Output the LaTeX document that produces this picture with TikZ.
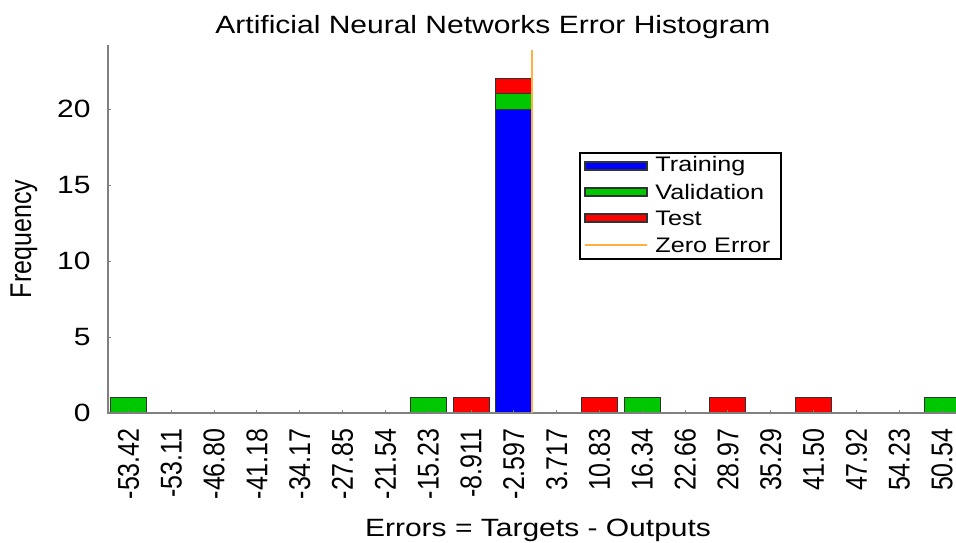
\documentclass[tikz,border=0pt]{standalone}
\usepackage{fontspec}
\setmainfont{Liberation Sans}
\usepackage{graphicx}
\newcommand{\hs}[1]{\scalebox{1.2}[1]{#1}}
\newcommand{\vs}[1]{\scalebox{1}[1.2]{#1}}
\definecolor{vblue}{RGB}{0,0,255}
\definecolor{vgreen}{RGB}{0,200,0}
\definecolor{vred}{RGB}{255,0,0}
\definecolor{vorange}{RGB}{255,176,64}
\definecolor{axgray}{RGB}{128,128,128}
\definecolor{edgegray}{RGB}{50,50,50}
\begin{document}
\begin{tikzpicture}[x=0.5pt,y=-0.5pt,
  axisline/.style={draw=axgray, line width=1pt},
  barbox/.style={draw=edgegray, line width=0.5pt},
  lbl/.style={font=\fontsize{12.5}{15}\selectfont, inner sep=0pt, text=black},
  leglbl/.style={font=\fontsize{10.5}{12}\selectfont, inner sep=0pt, text=black, anchor=west},
  legpatch/.style={draw=edgegray, line width=0.6pt}]
\useasboundingbox (0,0) rectangle (956,542);
\fill[white] (0,0) rectangle (956,542);
% bars
\foreach \i/\a/\b/\c in {0/0/1/vgreen, 7/0/1/vgreen, 8/0/1/vred, 9/0/20/vblue, 9/20/21/vgreen, 9/21/22/vred, 11/0/1/vred, 12/0/1/vgreen, 14/0/1/vred, 16/0/1/vred, 19/0/1/vgreen}
  \filldraw[barbox, fill=\c] ({128.5+42.82*\i-18},{413-15.2*\a}) rectangle ({128.5+42.82*\i+18},{413-15.2*\b});
% axes
\coordinate (org) at (108,413);
\coordinate (ytop) at (108,45);
\coordinate (xend) at (956,413);
\draw[axisline] (ytop) -- (org) -- (xend);
% y ticks and labels
\foreach \v in {0,5,10,15,20}{
  \draw[axisline, line width=0.5pt] (108,{413-15.2*\v}) -- (111,{413-15.2*\v});
  \node[lbl, anchor=east] (yt\v) at (91,{413-15.2*\v}) {\hs{\v}};
}
% x ticks and labels
\foreach \t [count=\k from 0] in {-53.42,-53.11,-46.80,-41.18,-34.17,-27.85,-21.54,-15.23,-8.911,-2.597,3.717,10.83,16.34,22.66,28.97,35.29,41.50,47.92,54.23,50.54}{
  \draw[axisline, line width=0.5pt] ({128.5+42.82*\k},413) -- ({128.5+42.82*\k},410);
  \node[lbl, rotate=90, anchor=east] (xt\k) at ({128.5+42.82*\k},428) {\vs{\t}};
}
% zero error line
\coordinate (z0) at (531.5,50);
\coordinate (z1) at (531.5,413);
\draw[vorange, line width=1pt] (z0) -- (z1);
% titles
\node[lbl] (title) at (493,27) {\hs{Artificial Neural Networks Error Histogram}};
\node[lbl] (xlabel) at (538,530) {\hs{Errors = Targets - Outputs}};
\node[lbl, rotate=90] (ylabel) at (24,239) {\vs{Frequency}};
% legend
\draw[black, line width=1pt, fill=white] (580,153) rectangle (781,259);
\filldraw[legpatch, fill=vblue] (585,162) rectangle (647,170);
\filldraw[legpatch, fill=vgreen] (585,188) rectangle (647,196);
\filldraw[legpatch, fill=vred] (585,214) rectangle (647,222);
\draw[vorange, line width=1pt] (585,245) -- (647,245);
\node[leglbl] (lt) at (655,166) {\hs{Training}};
\node[leglbl] (lv) at (655,192) {\hs{Validation}};
\node[leglbl] (ls) at (655,218) {\hs{Test}};
\node[leglbl] (lz) at (655,245) {\hs{Zero Error}};
\end{tikzpicture}
\end{document}
